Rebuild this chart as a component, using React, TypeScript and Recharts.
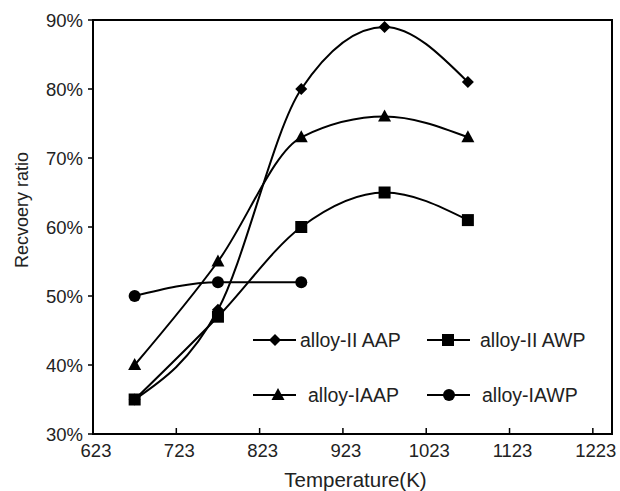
import React from "react";
import { LineChart, Line, XAxis, YAxis, ReferenceArea, Customized } from "recharts";

const temps = [673, 773, 873, 973, 1073];
const alloyIIAAP = [35, 48, 80, 89, 81];
const alloyIIAWP = [35, 47, 60, 65, 61];
const alloyIAAP = [40, 55, 73, 76, 73];
const alloyIAWP = [50, 52, 52, null, null];
const xTicks = [623, 723, 823, 923, 1023, 1123, 1223];
const yTicks = [30, 40, 50, 60, 70, 80, 90];

const data = temps.map((t, i) => ({
  t,
  aap2: alloyIIAAP[i],
  awp2: alloyIIAWP[i],
  aap1: alloyIAAP[i],
  awp1: alloyIAWP[i],
}));

const FONT = "'Liberation Sans', Arial, Helvetica, sans-serif";

function Marker({ kind, cx, cy }: { kind: string; cx: number; cy: number }) {
  if (kind === "diamond") {
    const r = 6;
    return <polygon points={`${cx},${cy - r} ${cx + r},${cy} ${cx},${cy + r} ${cx - r},${cy}`} fill="#000" />;
  }
  if (kind === "square") {
    return <rect x={cx - 6} y={cy - 6} width={12} height={12} fill="#000" />;
  }
  if (kind === "triangle") {
    return <polygon points={`${cx},${cy - 7} ${cx + 6.5},${cy + 5} ${cx - 6.5},${cy + 5}`} fill="#000" />;
  }
  return <circle cx={cx} cy={cy} r={6} fill="#000" />;
}

const dotOf = (kind: string) => (props: any) => {
  if (props.cx == null || props.cy == null || props.value == null) return <g key={`${kind}-${props.index}`} />;
  return (
    <g key={`${kind}-${props.index}`}>
      <Marker kind={kind} cx={props.cx} cy={props.cy} />
    </g>
  );
};

// ticks point inward (up), labels below the axis
const XTick = (props: any) => {
  const { x, y, payload } = props;
  return (
    <g>
      <line x1={x} x2={x} y1={y - 6} y2={y} stroke="#000" strokeWidth={1.5} />
      <text x={x + 3} y={y + 23} textAnchor="middle" fontSize={18.5} fontFamily={FONT} fill="#222">
        {payload.value}
      </text>
    </g>
  );
};

const legendItems = [
  { label: "alloy-II AAP", kind: "diamond", x: 253, y: 340, mx: 275, tx: 300 },
  { label: "alloy-II AWP", kind: "square", x: 427, y: 340, mx: 448, tx: 480 },
  { label: "alloy-IAAP", kind: "triangle", x: 253, y: 395, mx: 278, tx: 308 },
  { label: "alloy-IAWP", kind: "circle", x: 427, y: 395, mx: 449, tx: 482 },
];

const LegendBox = () => (
  <g>
    {legendItems.map((it) => (
      <g key={it.label}>
        <line x1={it.x} x2={it.x + 43} y1={it.y} y2={it.y} stroke="#000" strokeWidth={2} />
        <Marker kind={it.kind} cx={it.mx} cy={it.y} />
        <text x={it.tx} y={it.y + 7} fontSize={19.5} fontFamily={FONT} fill="#222">
          {it.label}
        </text>
      </g>
    ))}
  </g>
);

const YLabel = () => (
  <text
    transform="translate(28,210) rotate(-90)"
    textAnchor="middle"
    fontSize={18}
    fontFamily={FONT}
    fill="#222"
  >
    Recvoery ratio
  </text>
);

export default function App() {
  return (
    <div style={{ position: "absolute", left: 0, top: 0, background: "#fff" }}>
      <LineChart width={620} height={491} data={data} margin={{ top: 20, right: 8, bottom: 0, left: 33 }}>
        <XAxis
          dataKey="t"
          type="number"
          domain={[623, 1246]}
          ticks={xTicks}
          tick={<XTick />}
          tickSize={0}
          tickMargin={0}
          tickLine={false}
          axisLine={{ stroke: "#000", strokeWidth: 2 }}
          height={57}
          label={{ value: "Temperature(K)", position: "insideBottom", offset: 4, dx: 3, fontSize: 20.5, fontFamily: FONT, fill: "#222" }}
        />
        <YAxis
          type="number"
          domain={[30, 90]}
          ticks={yTicks}
          width={60}
          tickSize={5}
          tickMargin={5}
          tickFormatter={(v: number) => `${v}%`}
          tick={{ fontSize: 18.5, fontFamily: FONT, fill: "#222" }}
          tickLine={{ stroke: "#000", strokeWidth: 1.5 }}
          axisLine={{ stroke: "#000", strokeWidth: 2 }}
        />
        <ReferenceArea x1={623} x2={1246} y1={30} y2={90} fill="none" stroke="#000" strokeWidth={2} ifOverflow="visible" />
        <Line dataKey="aap2" type="monotone" stroke="#000" strokeWidth={2} dot={dotOf("diamond")} isAnimationActive={false} />
        <Line dataKey="awp2" type="monotone" stroke="#000" strokeWidth={2} dot={dotOf("square")} isAnimationActive={false} />
        <Line dataKey="aap1" type="monotone" stroke="#000" strokeWidth={2} dot={dotOf("triangle")} isAnimationActive={false} />
        <Line dataKey="awp1" type="monotone" stroke="#000" strokeWidth={2} dot={dotOf("circle")} isAnimationActive={false} />
        <Customized component={YLabel} />
        <Customized component={LegendBox} />
      </LineChart>
    </div>
  );
}
